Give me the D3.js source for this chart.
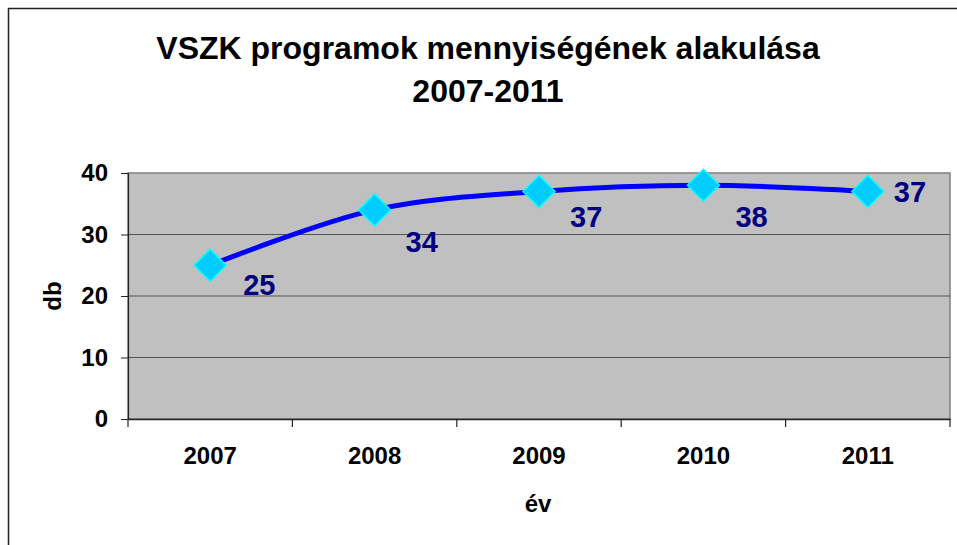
<!DOCTYPE html>
<html lang="hu">
<head>
  <meta charset="UTF-8">
  <title>VSZK programok</title>
  <script src="https://d3js.org/d3.v7.min.js"></script>
  <style>
    html, body { margin: 0; padding: 0; background: #fff; }
    svg { display: block; font-family: Arial, "Liberation Sans", sans-serif; font-weight: bold; }
  </style>
</head>
<body>
  <svg id="chart" width="957" height="545"></svg>
  <script>
    // Chart data
    const years = ["2007", "2008", "2009", "2010", "2011"];
    const counts = [25, 34, 37, 38, 37];
    const yTicks = [0, 10, 20, 30, 40];
    const titleLines = ["VSZK programok mennyiségének alakulása", "2007-2011"];

    // label placement (px offset from marker), as Excel put them
    const labelDx = [33, 31, 31, 32, 26];
    const labelDy = [30, 42, 36, 42, 11];

    const svg = d3.select("#chart");
    const plot = { left: 128, top: 173, right: 950, bottom: 419 };

    // Outer chart border
    svg.append("rect")
      .attr("x", 8.5).attr("y", 8.5)
      .attr("width", 970).attr("height", 560)
      .attr("fill", "#fff")
      .attr("stroke", "#222")
      .attr("stroke-width", 1.5);

    const x = d3.scaleBand().domain(years).range([plot.left, plot.right]);
    const y = d3.scaleLinear().domain([0, 40]).range([plot.bottom, plot.top]);

    // Plot background
    svg.append("rect")
      .attr("x", plot.left).attr("y", plot.top)
      .attr("width", plot.right - plot.left).attr("height", plot.bottom - plot.top)
      .attr("fill", "#c0c0c0")
      .attr("stroke", "#808080")
      .attr("stroke-width", 1.5);

    // Gridlines
    svg.append("g")
      .selectAll("line")
      .data(yTicks.filter(d => d > 0 && d < 40))
      .join("line")
      .attr("x1", plot.left).attr("x2", plot.right)
      .attr("y1", d => y(d)).attr("y2", d => y(d))
      .attr("stroke", "#555")
      .attr("stroke-width", 1.2);

    // Y axis
    const yAxis = svg.append("g")
      .attr("transform", `translate(${plot.left},0)`)
      .call(d3.axisLeft(y).tickValues(yTicks).tickSize(7).tickPadding(13));
    yAxis.select(".domain").attr("stroke", "#222").attr("stroke-width", 1.2);
    yAxis.selectAll(".tick line").attr("stroke", "#222");
    yAxis.selectAll("text").attr("font-size", 24).attr("fill", "#000")
      .attr("font-family", "Arial, sans-serif").attr("font-weight", "bold");

    // X axis
    const xAxis = svg.append("g")
      .attr("transform", `translate(0,${plot.bottom})`)
      .call(d3.axisBottom(x).tickSize(0).tickPadding(28));
    xAxis.select(".domain").attr("stroke", "#222").attr("stroke-width", 1.5);
    xAxis.selectAll("text").attr("font-size", 24).attr("fill", "#000")
      .attr("font-family", "Arial, sans-serif").attr("font-weight", "bold");
    // category separator ticks
    const edges = years.map(d => x(d)).concat([x.range()[1]]);
    xAxis.append("g").selectAll("line")
      .data(edges)
      .join("line")
      .attr("x1", d => d).attr("x2", d => d)
      .attr("y1", 0).attr("y2", 8)
      .attr("stroke", "#222").attr("stroke-width", 1.2);

    // Titles
    svg.append("g").selectAll("text")
      .data(titleLines)
      .join("text")
      .attr("x", 488)
      .attr("y", (d, i) => 59 + i * 43)
      .attr("text-anchor", "middle")
      .attr("font-size", 32)
      .attr("fill", "#000")
      .text(d => d);

    svg.append("text")
      .attr("x", 538).attr("y", 512)
      .attr("text-anchor", "middle")
      .attr("font-size", 24)
      .text("év");

    svg.append("text")
      .attr("transform", "translate(61,296) rotate(-90)")
      .attr("text-anchor", "middle")
      .attr("font-size", 24)
      .text("db");

    // Line
    const cx = d => x(d) + x.bandwidth() / 2;
    const line = d3.line()
      .x((d, i) => cx(years[i]))
      .y(d => y(d))
      .curve(d3.curveCatmullRom.alpha(0.5));
    svg.append("path")
      .datum(counts)
      .attr("d", line)
      .attr("fill", "none")
      .attr("stroke", "#0000ff")
      .attr("stroke-width", 5)
      .attr("stroke-linejoin", "round");

    // Diamond markers
    svg.append("g").selectAll("path")
      .data(counts)
      .join("path")
      .attr("transform", (d, i) => `translate(${cx(years[i])},${y(d)})`)
      .attr("d", "M0,-16L16,0L0,16L-16,0Z")
      .attr("fill", "#00ccff")
      .attr("stroke", "#00ffff")
      .attr("stroke-width", 1.5);

    // Value labels
    svg.append("g").selectAll("text")
      .data(counts)
      .join("text")
      .attr("x", (d, i) => cx(years[i]) + labelDx[i])
      .attr("y", (d, i) => y(d) + labelDy[i])
      .attr("font-size", 29)
      .attr("font-weight", "bold")
      .attr("fill", "#000080")
      .text(d => d);
  </script>
</body>
</html>
